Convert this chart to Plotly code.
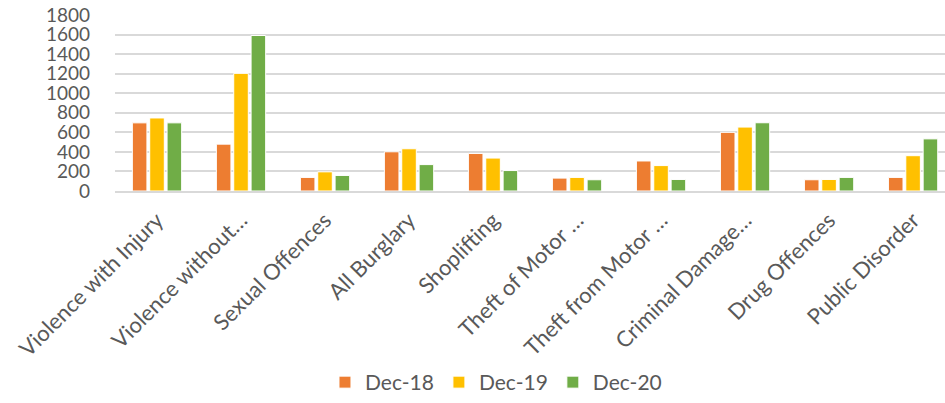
import plotly.graph_objects as go

categories = ["Violence with Injury", "Violence without…", "Sexual Offences", "All Burglary",
              "Shoplifting", "Theft of Motor …", "Theft from Motor …", "Criminal Damage…",
              "Drug Offences", "Public Disorder"]
dec18 = [697, 479, 139, 401, 384, 132, 307, 600, 115, 139]
dec19 = [747, 1203, 196, 432, 337, 139, 260, 654, 118, 361]
dec20 = [697, 1590, 159, 270, 209, 115, 118, 698, 139, 533]
series_names = ["Dec-18", "Dec-19", "Dec-20"]
colors = ["#ED7D31", "#FFC000", "#70AD47"]

fig = go.Figure()
for name, vals, c in zip(series_names, [dec18, dec19, dec20], colors):
    fig.add_trace(go.Bar(x=list(range(len(categories))), y=vals, name=name,
                         marker=dict(color=c, line=dict(color="white", width=1))))

font_color = "#595959"
fig.update_layout(
    width=945, height=403,
    margin=dict(l=115, r=0, t=15, b=210),
    paper_bgcolor="white", plot_bgcolor="white",
    barmode="group", bargap=0.38, bargroupgap=0.16,
    font=dict(family="Lato, Liberation Sans, sans-serif", size=20, color=font_color),
    xaxis=dict(range=[-0.5, 9.38], tickmode="array", tickvals=list(range(len(categories))),
               ticktext=categories, tickangle=-45, showgrid=False, ticks="",
               showline=True, linecolor="#d9d9d9", linewidth=1.5, automargin=False,
               ticklabelstandoff=6,
               tickfont=dict(size=22, color=font_color)),
    yaxis=dict(range=[0, 1800], dtick=200, showgrid=True, gridcolor="#d9d9d9", gridwidth=1.5,
               zeroline=False, ticks="", ticklabelstandoff=24, automargin=False,
               tickfont=dict(size=19, color=font_color)),
    legend=dict(orientation="h", x=0.459, xanchor="center", y=-1.09, yanchor="middle",
                font=dict(size=21, color=font_color), itemwidth=30, traceorder="normal"),
    showlegend=True,
)
fig.write_html("out.html", config={"displayModeBar": False},
               post_script="document.body.style.margin='0';")
